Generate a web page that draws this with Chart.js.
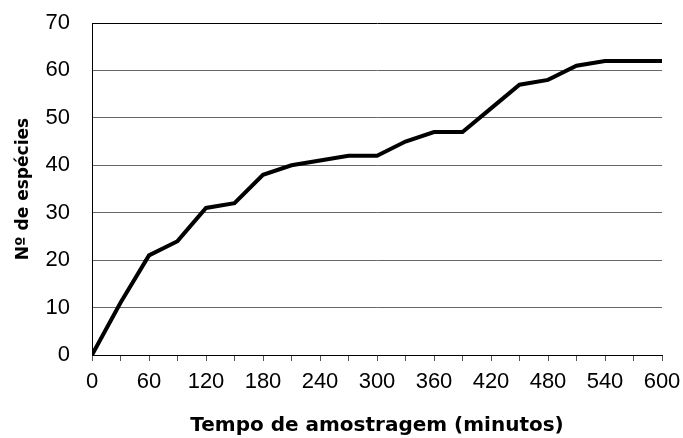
<!DOCTYPE html>
<html>
<head>
<meta charset="utf-8">
<script src="https://cdn.jsdelivr.net/npm/chart.js@4/dist/chart.umd.min.js"></script>
<style>
  html, body { margin: 0; padding: 0; background: #fff; }
  #wrap { width: 683px; height: 438px; }
</style>
</head>
<body>
<div id="wrap"><canvas id="curva"></canvas></div>
<script>
// tempo de amostragem (minutos) e nº acumulado de espécies
const tempos = [0, 30, 60, 90, 120, 150, 180, 210, 240, 270, 300, 330, 360, 390, 420, 450, 480, 510, 540, 570, 600];
const especies = [0, 11, 21, 24, 31, 32, 38, 40, 41, 42, 42, 45, 47, 47, 52, 57, 58, 61, 62, 62, 62];
const xMarcas = [0, 60, 120, 180, 240, 300, 360, 420, 480, 540, 600];
const yMarcas = [0, 10, 20, 30, 40, 50, 60, 70];

const pontos = tempos.map((t, i) => ({ x: t, y: especies[i] }));
const fonteNum = "'Liberation Sans', Arial, sans-serif";

const ctx = document.getElementById('curva').getContext('2d');
new Chart(ctx, {
    type: 'line',
    data: {
        datasets: [{
            data: pontos,
            borderColor: '#000',
            borderWidth: 4,
            pointRadius: 0,
            tension: 0,
            borderJoinStyle: 'miter'
        }]
    },
    options: {
        responsive: true,
        maintainAspectRatio: false,
        animation: false,
        layout: { padding: { top: 23, right: 21, bottom: 0, left: 13 } },
        plugins: {
            legend: { display: false },
            tooltip: { enabled: false }
        },
        scales: {
            x: {
                type: 'linear',
                min: 0,
                max: 600,
                ticks: {
                    stepSize: 30,
                    autoSkip: false,
                    maxRotation: 0,
                    padding: 8,
                    color: '#000',
                    font: { family: fonteNum, size: 22 },
                    callback: v => xMarcas.includes(v) ? v : ''
                },
                grid: {
                    drawOnChartArea: false,
                    tickLength: 6,
                    color: '#555'
                },
                border: { display: true, color: '#000', width: 1 },
                title: {
                    display: true,
                    text: 'Tempo de amostragem (minutos)',
                    color: '#000',
                    font: { family: 'DejaVu Sans', size: 20, weight: 'bold' },
                    padding: { top: 6, bottom: 0 }
                },
                afterFit: s => { s.height = 83; s.paddingLeft = 0; s.paddingRight = 0; }
            },
            y: {
                min: 0,
                max: 70,
                afterBuildTicks: s => { s.ticks = yMarcas.map(v => ({ value: v })); },
                ticks: {
                    padding: 22,
                    color: '#000',
                    font: { family: fonteNum, size: 22 }
                },
                grid: {
                    drawTicks: false,
                    color: ctx => ctx.tick && ctx.tick.value === 70 ? '#000' : '#666',
                    lineWidth: 1
                },
                border: { display: true, color: '#000', width: 1 },
                title: {
                    display: true,
                    text: 'Nº de espécies',
                    color: '#000',
                    font: { family: 'DejaVu Sans', size: 17, weight: 'bold' },
                    padding: { top: 0, bottom: 4 }
                },
                afterFit: s => { s.width = 79; s.paddingTop = 0; s.paddingBottom = 0; }
            }
        }
    }
});
</script>
</body>
</html>
